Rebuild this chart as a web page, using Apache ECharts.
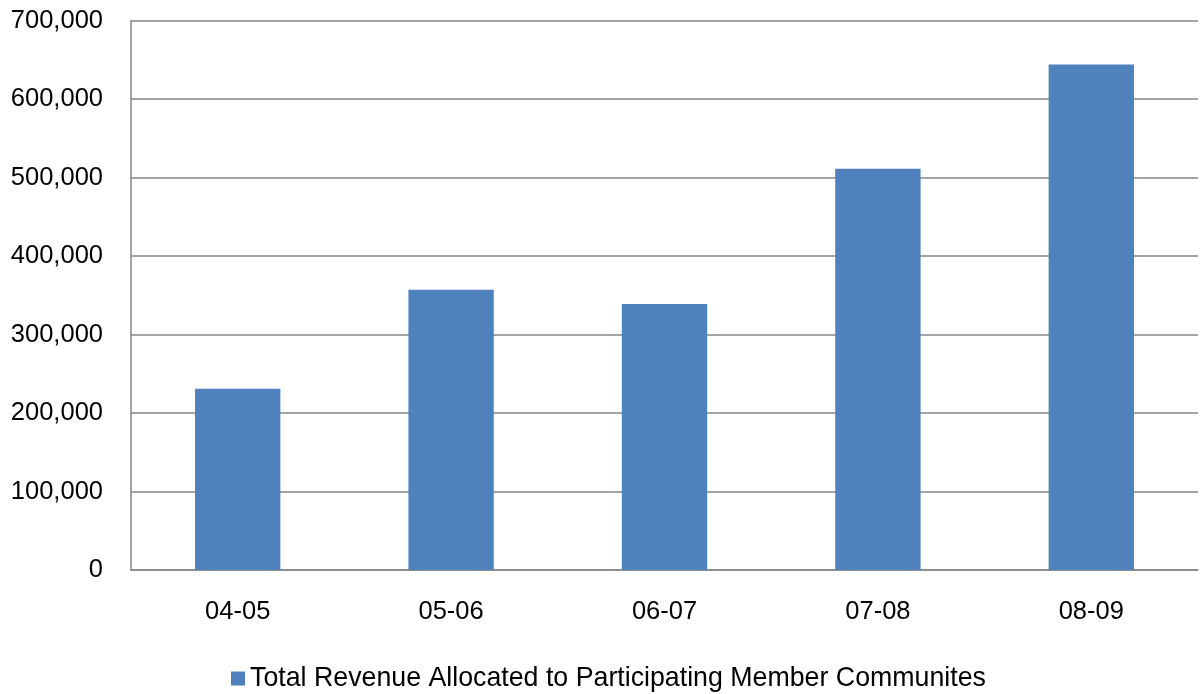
<!DOCTYPE html>
<html>
<head>
<meta charset="utf-8">
<script src="https://cdn.jsdelivr.net/npm/echarts@6/dist/echarts.min.js"></script>
<style>
  html, body { margin: 0; padding: 0; background: #ffffff; }
  #chart { width: 1202px; height: 694px; }
</style>
</head>
<body>
<div id="chart"></div>
<script>
// Fiscal years and revenue allocated to member communities
const categories = ['04-05', '05-06', '06-07', '07-08', '08-09'];
const revenue = [231000, 357000, 339000, 511000, 644000];
const seriesName = 'Total Revenue Allocated to Participating Member Communites';

const FONT = '"Liberation Sans", Arial, sans-serif';

const chart = echarts.init(document.getElementById('chart'), null, { renderer: 'canvas' });

chart.setOption({
  animation: false,
  backgroundColor: '#ffffff',
  grid: { left: 131, right: 4, top: 20.5, bottom: 124, containLabel: false },
  legend: {
    data: [seriesName],
    left: 231,
    top: 665,
    padding: 0,
    itemWidth: 14,
    itemHeight: 14,
    icon: 'rect',
    textStyle: { fontFamily: FONT, fontSize: 26.75, color: '#000000' }
  },
  xAxis: {
    type: 'category',
    data: categories,
    axisLine: { show: true, lineStyle: { color: '#868686', width: 1.5 } },
    axisTick: { show: false },
    axisLabel: { fontFamily: FONT, fontSize: 25.5, color: '#000000', margin: 29 }
  },
  yAxis: {
    type: 'value',
    min: 0,
    max: 700000,
    interval: 100000,
    axisLine: { show: true, lineStyle: { color: '#868686', width: 1.5 } },
    axisTick: { show: false },
    axisLabel: {
      fontFamily: FONT, fontSize: 25.5, color: '#000000', margin: 28,
      padding: [4, 0, 0, 0],
      formatter: v => v.toLocaleString('en-US')
    },
    splitLine: { show: true, lineStyle: { color: '#868686', width: 1.5 } }
  },
  series: [{
    name: seriesName,
    type: 'bar',
    data: revenue,
    barWidth: '40%',
    itemStyle: { color: '#4F81BD' }
  }]
});
</script>
</body>
</html>
